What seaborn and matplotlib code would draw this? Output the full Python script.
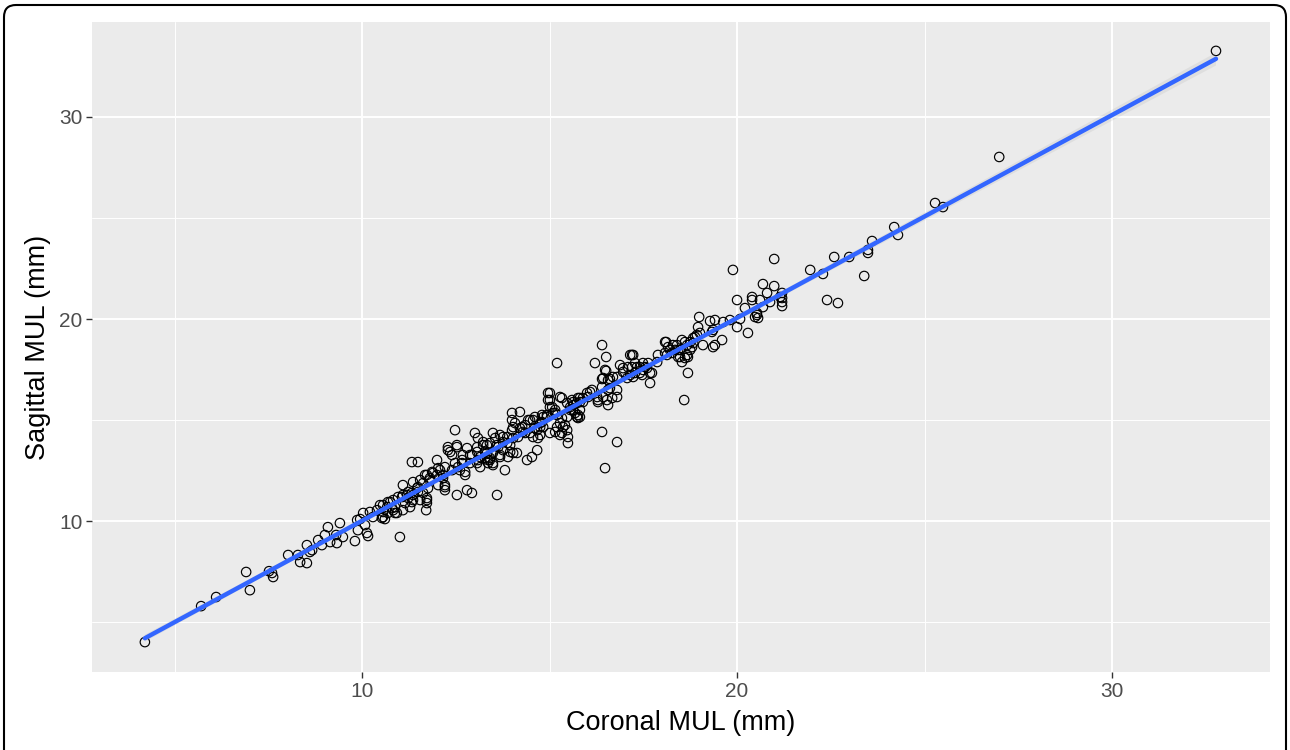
import matplotlib
matplotlib.use("Agg")
import matplotlib.pyplot as plt
from matplotlib.patches import FancyBboxPatch
from matplotlib.transforms import IdentityTransform
from matplotlib.ticker import FixedLocator
import pandas as pd
import seaborn as sns

# Mid-upper-lip measurements (mm), coronal vs sagittal, grouped by range
coronal_a = [4.21, 5.71, 6.11, 6.91, 7.01, 7.52, 7.60, 7.63, 8.03, 8.29,
             8.35, 8.53, 8.53, 8.67, 8.61, 8.83, 8.93, 9.01, 9.09, 9.15,
             9.33, 9.31, 9.41, 9.49, 9.81, 9.89, 9.95, 10.03, 10.13, 10.16,
             10.21, 10.29, 10.48, 10.61, 10.69, 10.83, 10.93, 11.01, 11.09, 11.20,
             11.33, 11.47, 11.63, 11.71, 11.73, 11.33, 11.49, 11.68, 9.87, 10.08,
             10.40, 10.56, 10.80, 11.07, 11.23, 11.36, 11.49, 11.63, 11.33, 11.55,
             11.76, 11.23, 11.36, 11.49, 11.73, 11.73, 11.55, 11.36, 11.09, 10.96,
             10.83, 10.88, 10.75, 10.67, 10.56, 10.69, 10.56, 10.53, 10.88, 11.15,
             11.09, 11.28, 11.73, 11.81, 11.89]
sagittal_a = [4.01, 5.79, 6.24, 7.48, 6.58, 7.52, 7.43, 7.23, 8.32, 8.32,
              7.97, 7.92, 8.81, 8.56, 8.47, 9.06, 8.81, 9.31, 9.70, 8.96,
              8.91, 9.31, 9.90, 9.21, 9.01, 9.55, 10.10, 10.40, 9.41, 9.26,
              10.45, 10.20, 10.79, 10.10, 10.94, 10.54, 10.40, 9.21, 11.78, 11.29,
              10.94, 11.63, 11.88, 10.54, 11.04, 12.92, 12.92, 12.28, 10.05, 9.80,
              10.54, 10.20, 10.64, 11.19, 11.14, 11.93, 11.68, 11.39, 11.39, 12.03,
              11.63, 11.44, 11.29, 11.44, 11.14, 10.89, 11.04, 11.04, 11.29, 11.19,
              11.04, 10.69, 10.94, 10.69, 10.79, 10.40, 10.45, 10.15, 10.40, 10.89,
              10.54, 10.69, 12.28, 12.13, 12.38]

coronal_b = [11.81, 11.87, 12.00, 12.03, 12.16, 12.21, 12.21, 12.29, 12.29, 12.40,
             12.48, 12.53, 12.53, 12.56, 12.67, 12.75, 12.80, 12.80, 12.88, 12.93,
             13.01, 13.07, 13.09, 13.15, 13.23, 13.33, 13.41, 13.49, 13.49, 13.60,
             13.60, 13.68, 13.76, 13.81, 13.87, 13.95, 14.00, 14.00, 14.03, 14.08,
             14.13, 14.21, 14.27, 14.35, 14.40, 14.43, 13.09, 13.33, 12.53, 12.35,
             12.69, 12.93, 13.07, 13.15, 13.28, 13.36, 12.88, 13.07, 12.67, 12.48,
             12.40, 12.61, 12.75, 12.21, 12.08, 12.00, 12.16, 12.21, 12.03, 14.00,
             14.03, 14.21, 14.29, 14.16, 13.87, 13.76, 13.68, 13.55, 13.41, 13.23,
             13.63, 13.76, 13.95, 14.03, 13.89, 13.68, 13.49, 13.41, 13.28, 13.49,
             13.36, 14.48, 14.35, 14.48]
sagittal_b = [12.03, 12.43, 13.02, 12.62, 12.28, 11.78, 11.53, 13.66, 13.51, 13.27,
              14.50, 13.76, 11.29, 12.67, 13.02, 12.43, 11.53, 13.61, 13.27, 11.39,
              14.36, 13.66, 13.02, 12.67, 13.91, 13.37, 13.02, 14.36, 12.77, 13.76,
              11.29, 13.27, 14.16, 12.52, 13.86, 13.42, 15.35, 14.50, 14.11, 14.85,
              13.37, 15.40, 14.65, 14.36, 13.02, 15.00, 14.11, 13.76, 13.66, 13.42,
              13.27, 13.27, 13.42, 13.17, 13.42, 13.02, 12.87, 12.87, 12.87, 12.87,
              12.52, 12.52, 12.28, 12.67, 12.52, 12.28, 12.13, 11.68, 11.78, 15.00,
              14.65, 14.60, 14.41, 14.16, 14.16, 13.91, 14.26, 14.11, 13.86, 13.76,
              13.66, 13.51, 13.76, 13.37, 13.17, 13.17, 13.37, 13.12, 13.12, 12.87,
              12.87, 15.00, 14.75, 14.36]

coronal_c = [14.53, 14.56, 14.61, 14.67, 14.69, 14.75, 14.75, 14.80, 14.83, 14.93,
             14.96, 14.96, 15.01, 15.01, 15.01, 15.01, 15.07, 15.09, 15.15, 15.20,
             15.20, 15.28, 15.28, 15.28, 15.33, 15.33, 15.36, 15.41, 15.47, 15.47,
             15.49, 15.49, 15.55, 15.55, 15.63, 15.63, 15.73, 15.76, 15.81, 15.89,
             16.00, 16.13, 16.21, 16.29, 16.40, 16.40, 16.40, 16.48, 16.51, 16.51,
             16.53, 16.61, 16.61, 16.80, 16.80, 16.80, 16.88, 16.96, 17.15, 15.15,
             15.20, 14.93, 15.47, 15.60, 15.73, 15.81, 16.03, 15.81, 15.68, 15.76,
             15.33, 15.15, 14.80, 14.61, 14.56, 14.67, 14.75, 14.83, 16.96, 17.09,
             17.07, 16.69, 16.56, 16.43, 16.48, 16.40, 16.56, 16.80, 16.67, 16.43,
             16.27, 16.08, 15.89, 15.81, 15.63, 15.76, 16.56, 16.29]
sagittal_c = [13.17, 15.00, 14.60, 13.51, 14.11, 14.85, 14.65, 15.25, 15.15, 15.15,
              16.34, 15.99, 16.34, 15.99, 15.64, 14.36, 15.64, 15.35, 15.35, 17.82,
              14.65, 16.14, 14.85, 14.26, 16.09, 15.10, 14.65, 14.75, 15.15, 14.50,
              14.16, 13.86, 15.64, 15.50, 15.89, 15.74, 15.15, 16.09, 15.15, 15.89,
              16.34, 16.49, 17.82, 15.89, 18.71, 17.03, 14.41, 12.62, 18.12, 17.43,
              15.99, 17.03, 16.58, 17.13, 16.14, 13.91, 17.72, 17.38, 18.22, 15.50,
              15.25, 15.25, 15.84, 15.99, 15.84, 16.09, 16.14, 15.50, 15.35, 15.10,
              14.36, 14.41, 14.90, 15.15, 14.16, 14.50, 14.26, 14.65, 17.57, 17.62,
              17.08, 17.13, 16.98, 17.08, 17.48, 16.63, 16.49, 16.49, 16.09, 16.14,
              16.14, 16.39, 16.09, 15.89, 15.50, 15.25, 15.74, 15.99]

coronal_d = [19.89, 20.99, 21.95, 20.69, 20.99, 20.40, 20.40, 20.80, 20.00, 20.21,
             20.61, 20.88, 21.15, 21.20, 21.20, 20.69, 20.53, 20.48, 20.08, 20.00,
             20.29, 19.81, 19.63, 19.41, 19.28, 19.36, 19.60, 19.41, 19.09, 19.01,
             18.96, 18.99, 18.88, 18.83, 18.75, 18.67, 18.69, 18.75, 18.48, 18.53,
             18.61, 18.29, 18.11, 18.21, 18.13, 17.89, 17.87, 17.63, 17.49, 17.49,
             17.41, 17.33, 17.23, 17.73, 17.68, 17.23, 18.69, 18.59, 17.55, 18.08,
             18.43, 17.20, 17.20, 18.35, 18.43, 17.28, 17.41, 17.60, 17.68, 17.47,
             17.28, 17.15, 20.53, 20.56, 19.33, 18.93, 18.83, 18.61, 18.53, 18.40,
             18.16, 18.08, 18.27, 18.48, 18.80, 19.36, 18.67, 21.20, 21.20]
sagittal_d = [22.43, 22.97, 22.43, 21.73, 21.63, 21.09, 20.94, 21.29, 20.94, 20.54,
              20.94, 20.84, 21.09, 20.84, 20.64, 20.59, 20.20, 20.10, 20.00, 19.60,
              19.31, 19.95, 19.85, 19.95, 19.90, 19.46, 18.96, 18.71, 18.71, 19.31,
              19.60, 20.10, 19.11, 18.81, 18.86, 18.71, 18.12, 18.47, 18.12, 17.87,
              18.07, 18.71, 18.86, 18.47, 18.22, 18.22, 17.87, 17.82, 17.82, 17.48,
              17.33, 17.62, 18.22, 17.33, 16.83, 17.13, 17.33, 15.99, 17.62, 18.86,
              18.47, 17.62, 18.22, 18.47, 18.12, 17.82, 17.62, 17.57, 17.33, 17.23,
              17.33, 17.23, 20.30, 20.05, 19.36, 19.21, 19.06, 18.86, 18.96, 18.71,
              18.61, 18.32, 18.32, 18.47, 18.61, 18.61, 18.22, 21.29, 21.04]

coronal_e = [25.28, 25.49, 24.19, 24.29, 23.60, 23.49, 23.49, 22.99, 22.59, 22.29,
             23.39, 22.40, 22.69, 26.99, 32.77]
sagittal_e = [25.74, 25.54, 24.55, 24.16, 23.86, 23.42, 23.27, 23.07, 23.07, 22.23,
              22.13, 20.94, 20.79, 28.02, 33.27]

x_ticks = [10, 20, 30]
y_ticks = [10, 20, 30]
x_minor = [5, 15, 25]
y_minor = [5, 15, 25]
x_title = "Coronal MUL (mm)"
y_title = "Sagittal MUL (mm)"

df = pd.DataFrame({
    "coronal": coronal_a + coronal_b + coronal_c + coronal_d + coronal_e,
    "sagittal": sagittal_a + sagittal_b + sagittal_c + sagittal_d + sagittal_e,
})

sns.set_theme(style="darkgrid", rc={
    "axes.facecolor": "#EBEBEB",
    "grid.color": "white",
    "axes.edgecolor": "#EBEBEB",
})
plt.rcParams["font.family"] = ["Liberation Sans", "DejaVu Sans"]

fig = plt.figure(figsize=(12.9, 7.5), dpi=100)
fig.patch.set_facecolor("white")
ax = fig.add_axes([92 / 1290, 78 / 750, (1270 - 92) / 1290, (672 - 22) / 750])

sns.scatterplot(data=df, x="coronal", y="sagittal", ax=ax,
                facecolor="none", edgecolor="black", s=46, linewidth=0.85,
                zorder=3)
sns.regplot(data=df, x="coronal", y="sagittal", ax=ax, scatter=False,
            ci=95, seed=0, color="#3366FF",
            line_kws={"linewidth": 3.2, "zorder": 4})

# grey confidence ribbon
for coll in ax.collections[1:]:
    coll.set_facecolor((0.6, 0.6, 0.6, 0.4))
    coll.set_edgecolor("none")
    coll.set_zorder(3.5)

ax.set_xlim(2.8, 34.21)
ax.set_ylim(2.53, 34.70)
ax.xaxis.set_major_locator(FixedLocator(x_ticks))
ax.yaxis.set_major_locator(FixedLocator(y_ticks))
ax.xaxis.set_minor_locator(FixedLocator(x_minor))
ax.yaxis.set_minor_locator(FixedLocator(y_minor))
ax.grid(which="major", color="white", linewidth=1.4)
ax.grid(which="minor", color="white", linewidth=0.7)
ax.set_axisbelow(True)
for sp in ax.spines.values():
    sp.set_visible(False)

ax.tick_params(axis="both", which="major", length=4, width=1.0,
               color="#333333", labelcolor="#4D4D4D", labelsize=15, pad=3,
               bottom=True, left=True)
ax.tick_params(axis="both", which="minor", length=0)

ax.set_xlabel(x_title, fontsize=19.5, color="black", labelpad=7)
ax.set_ylabel(y_title, fontsize=19.5, color="black", labelpad=6)

# rounded outer frame
frame = FancyBboxPatch((4, -30), 1282, 775,
                       boxstyle="round,pad=0,rounding_size=12",
                       transform=IdentityTransform(), fill=False,
                       edgecolor="black", linewidth=1.5)
fig.add_artist(frame)

fig.savefig("out.png", dpi=100)
